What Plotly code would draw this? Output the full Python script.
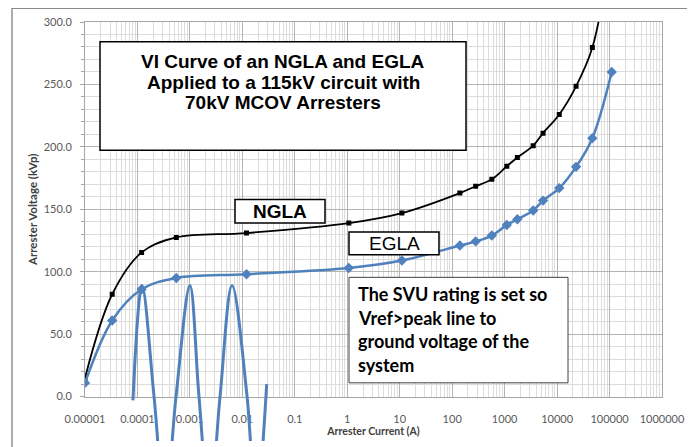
import plotly.graph_objects as go

# ---------------- data ----------------
current_a = [0.00001, 0.000033, 0.00012, 0.00055, 0.012, 1.07, 11, 140, 280, 570,
             1100, 1750, 3500, 5400, 11000, 23000, 47000, 110000]
ngla_kvp = [15, 82, 115.5, 127.5, 131, 139, 147, 163, 168.5, 174,
            184.5, 191.5, 201, 211, 226, 248.5, 279.5, 362]
egla_kvp = [11, 61, 86, 95, 98, 103, 109, 121, 124.3, 129,
            137.5, 142, 149, 157, 167, 184, 207, 260]

# hand-drawn system voltage wave (read point by point)
wave_current_a = [0.000082, 0.000122, 0.000207, 0.000335, 0.000543, 0.0010, 0.00149,
                  0.00237, 0.00375, 0.00635, 0.0123, 0.0182, 0.0291]
wave_kvp = [-3, 89, 0, -89, 0, 89, 0, -89, 0, 89, 0, -89, 10]

x_tick_vals = [1e-5, 1e-4, 1e-3, 1e-2, 1e-1, 1, 10, 100, 1000, 10000, 100000, 1000000]
x_tick_text = ["0.00001", "0.0001", "0.001", "0.01", "0.1", "1", "10", "100",
               "1000", "10000", "100000", "1000000"]
y_tick_vals = [0, 50, 100, 150, 200, 250, 300]

title_lines = ["VI Curve of an NGLA and EGLA",
               "Applied to a 115kV circuit with",
               "70kV MCOV Arresters"]
note_lines = ["The SVU rating is set so", "Vref>peak line to",
              "ground voltage of the", "system"]

# ---------------- layout geometry ----------------
OFF = 8                      # page body margin
W, H = 695 - OFF, 447 - OFF
L, R, T, B = 85 - OFF, 33, 22 - OFF, 0
PW, PH = W - L - R, H - T - B
plot_bottom = 402 - OFF
y_dom0 = (H - plot_bottom) / PH
wave_ymin = 300 - 300 * (PH / (plot_bottom - T))


def px(sx):
    return (sx - OFF - L) / PW


def py(sy):
    return (H - (sy - OFF)) / PH


minor_x = [m * 10 ** k for k in range(-5, 6) for m in range(2, 10)]

BLUE = "#4f81bd"
fig = go.Figure()
fig.add_trace(go.Scatter(
    x=current_a, y=ngla_kvp, mode="lines+markers", name="NGLA",
    line=dict(color="black", width=1.8, shape="spline", smoothing=1),
    marker=dict(symbol="square", size=5, color="black"),
    xaxis="x", yaxis="y"))
fig.add_trace(go.Scatter(
    x=current_a, y=egla_kvp, mode="lines+markers", name="EGLA",
    line=dict(color=BLUE, width=2.5, shape="spline", smoothing=1),
    marker=dict(symbol="diamond", size=8, color=BLUE),
    xaxis="x", yaxis="y"))
fig.add_trace(go.Scatter(
    x=wave_current_a, y=wave_kvp, mode="lines", name="wave",
    line=dict(color=BLUE, width=3, shape="spline", smoothing=1),
    xaxis="x2", yaxis="y2"))

tickfont = dict(family="Lato, Carlito, sans-serif", size=11, color="#595959")
xtitlefont = dict(family="Lato, Carlito, sans-serif", size=10.5, color="#404040", weight="bold")
ytitlefont = dict(family="Lato, Carlito, sans-serif", size=11.5, color="#404040", weight="bold")

fig.update_layout(
    width=W, height=H, showlegend=False,
    margin=dict(l=L, r=R, t=T, b=B),
    paper_bgcolor="white", plot_bgcolor="rgba(0,0,0,0)",
    xaxis=dict(type="log", range=[-5, 6], domain=[0, 1], anchor="y",
               tickmode="array", tickvals=x_tick_vals, ticktext=x_tick_text,
               showgrid=True, gridcolor="#b4b4b4", gridwidth=1,
               minor=dict(tickmode="array", tickvals=minor_x, showgrid=True,
                          gridcolor="#dcdcdc", gridwidth=1),
               showline=True, mirror=True, linecolor="#a6a6a6", linewidth=1,
               zeroline=False, tickfont=tickfont, ticks="", ticklabelstandoff=12,
               title=dict(text="Arrester Current (A)", font=xtitlefont, standoff=0)),
    yaxis=dict(range=[0, 300], domain=[y_dom0, 1], anchor="x",
               tickmode="array", tickvals=y_tick_vals, tickformat=".1f",
               showgrid=True, gridcolor="#b4b4b4", gridwidth=1,
               minor=dict(dtick=10, showgrid=True, gridcolor="#dcdcdc", gridwidth=1,
                          ticks="outside", ticklen=3, tickcolor="#a6a6a6"),
               ticks="outside", ticklen=4, tickcolor="#a6a6a6", ticklabelstandoff=6,
               showline=True, mirror=True, linecolor="#a6a6a6", linewidth=1,
               zeroline=False, tickfont=tickfont,
               title=dict(text="Arrester Voltage (kVp)", font=ytitlefont, standoff=3)),
    xaxis2=dict(type="log", range=[-5, 6], domain=[0, 1], anchor="y2", visible=False),
    yaxis2=dict(range=[wave_ymin, 300], domain=[0, 1], anchor="x2", visible=False),
)

shapes = [
    # outer chart border
    dict(type="rect", xref="paper", yref="paper", x0=px(12), x1=px(689), y0=py(470), y1=py(8),
         line=dict(color="#595959", width=1), fillcolor="rgba(0,0,0,0)", layer="above"),
    # title box
    dict(type="rect", xref="paper", yref="paper", x0=px(100), x1=px(466), y0=py(152), y1=py(42),
         line=dict(color="black", width=1.5), fillcolor="white", layer="above"),
    # NGLA box
    dict(type="rect", xref="paper", yref="paper", x0=px(235), x1=px(325), y0=py(226), y1=py(202),
         line=dict(color="black", width=1.5), fillcolor="white", layer="above"),
    # EGLA box
    dict(type="rect", xref="paper", yref="paper", x0=px(349), x1=px(439), y0=py(258), y1=py(235),
         line=dict(color="black", width=1.5), fillcolor="white", layer="above"),
    # note box
    dict(type="rect", xref="paper", yref="paper", x0=px(349), x1=px(568), y0=py(388), y1=py(281),
         line=dict(color="#404040", width=1), fillcolor="white", layer="above"),
]
fig.update_layout(shapes=shapes)

ann = []
boldarial = dict(family="Arial, Liberation Sans, sans-serif", size=19, color="black", weight="bold")
for i, line in enumerate(title_lines):
    ann.append(dict(xref="paper", yref="paper", x=px(283), y=py(62 + 21 * i), text=line,
                    showarrow=False, xanchor="center", yanchor="middle", font=boldarial))
ann.append(dict(xref="paper", yref="paper", x=px(280), y=py(214), text="NGLA", showarrow=False,
                xanchor="center", yanchor="middle", font=boldarial))
ann.append(dict(xref="paper", yref="paper", x=px(394), y=py(246.5), text="EGLA", showarrow=False,
                xanchor="center", yanchor="middle",
                font=dict(family="Arial, Liberation Sans, sans-serif", size=19, color="black")))
notefont = dict(family="Lato, Carlito, sans-serif", size=18, color="black", weight="bold")
for i, line in enumerate(note_lines):
    ann.append(dict(xref="paper", yref="paper", x=px(356), y=py(298 + 24 * i), text=line,
                    showarrow=False, xanchor="left", yanchor="middle", font=notefont))
fig.update_layout(annotations=ann)

fig.write_html("out.html")
